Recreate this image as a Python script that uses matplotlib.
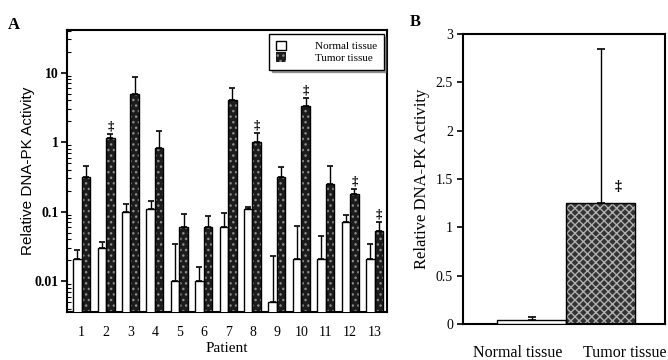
import matplotlib
matplotlib.use("Agg")
import matplotlib.pyplot as plt
import numpy as np
from matplotlib.ticker import FixedLocator, FixedFormatter, NullFormatter, LogLocator
from matplotlib.patches import Patch

# ---------------- data ----------------
patients = ["1", "2", "3", "4", "5", "6", "7", "8", "9", "10", "11", "12", "13"]
normal_vals = [0.021, 0.030, 0.10, 0.11, 0.010, 0.010, 0.061, 0.11, 0.005, 0.021, 0.021, 0.072, 0.021]
normal_err = [0.007, 0.007, 0.03, 0.03, 0.024, 0.006, 0.035, 0.005, 0.018, 0.042, 0.024, 0.018, 0.013]
tumor_vals = [0.31, 1.14, 5.0, 0.83, 0.060, 0.060, 4.1, 1.0, 0.32, 3.3, 0.25, 0.18, 0.053]
tumor_err = [0.14, 0.16, 3.6, 0.60, 0.034, 0.028, 1.9, 0.34, 0.12, 1.0, 0.20, 0.03, 0.017]
tumor_sig = [False, True, False, False, False, False, False, True, False, True, False, True, True]

b_labels = ["Normal tissue", "Tumor tissue"]
b_vals = [0.04, 1.25]
b_err = [0.03, 1.59]
b_sig = [False, True]

a_yticks = [0.01, 0.1, 1, 10]
a_yticklabels = ["0.01", "0.1", "1", "10"]
b_yticks = [0, 0.5, 1, 1.5, 2, 2.5, 3]
b_yticklabels = ["0", "0.5", "1", "1.5", "2", "2.5", "3"]

SERIF = "Liberation Serif"
SANS = "Liberation Sans"

fig = plt.figure(figsize=(6.68, 3.6), dpi=100)
fig.patch.set_facecolor("white")

DARK = "#1c1c1c"
SPECK = "#8c8c8c"


def hatched_bar(ax, x, h, w, face, speck, hatch):
    ax.bar(x, h, w, color=face, edgecolor=speck, hatch=hatch, linewidth=0, zorder=2)
    ax.bar(x, h, w, fill=False, edgecolor="black", linewidth=1.0, zorder=3)


# ---------------- Panel A ----------------
axA = fig.add_axes([0.1003, 0.1333, 0.4786, 0.7833])
x = np.arange(1, len(patients) + 1)
w = 0.35
xn = x - w / 2
xt = x + w / 2
axA.set_yscale("log")
axA.set_ylim(0.0036, 41)
axA.set_xlim(0.4, 13.5)

axA.bar(xn, normal_vals, w, color="white", edgecolor="black", linewidth=1.0, zorder=3)
hatched_bar(axA, xt, tumor_vals, w, DARK, SPECK, "...")
axA.errorbar(xn, normal_vals, yerr=[np.zeros(len(x)), normal_err], fmt="none",
             ecolor="black", elinewidth=1.0, capsize=2, capthick=1.2, zorder=4)
axA.errorbar(xt, tumor_vals, yerr=[np.zeros(len(x)), tumor_err], fmt="none",
             ecolor="black", elinewidth=1.0, capsize=2, capthick=1.2, zorder=4)
for xi, v, e, s in zip(xt, tumor_vals, tumor_err, tumor_sig):
    if s:
        axA.text(xi, (v + e) * 1.06, "‡", ha="center", va="bottom",
                 fontsize=9, family=SERIF, fontweight="bold")

axA.yaxis.set_major_locator(FixedLocator(a_yticks))
axA.yaxis.set_major_formatter(FixedFormatter(a_yticklabels))
axA.yaxis.set_minor_locator(LogLocator(base=10, subs=np.arange(2, 10)))
axA.yaxis.set_minor_formatter(NullFormatter())
axA.tick_params(axis="y", which="major", direction="out", length=4, width=1.2,
                labelsize=10, pad=2)
axA.tick_params(axis="y", which="minor", direction="in", length=3, width=0.8)
for lab in axA.get_yticklabels():
    lab.set_family(SERIF)
    lab.set_fontweight("bold")
axA.set_xticks(x)
axA.set_xticklabels(patients, family=SERIF, fontsize=10)
axA.tick_params(axis="x", length=0, pad=10)
for sp in axA.spines.values():
    sp.set_linewidth(1.5)
axA.set_xlabel("Patient", family=SERIF, fontsize=11, labelpad=2)
axA.set_ylabel("Relative DNA-PK Activity", family=SANS, fontsize=11, labelpad=0)

# legend
h1 = Patch(facecolor="white", edgecolor="black", linewidth=1.0)
h2 = Patch(facecolor=DARK, edgecolor=SPECK, hatch="...", linewidth=0)
leg = axA.legend([h1, h2], ["Normal tissue", "Tumor tissue"], loc="upper right",
                 bbox_to_anchor=(0.99, 0.985), frameon=True, fancybox=False,
                 shadow=True, prop={"family": SERIF, "size": 8},
                 handlelength=0.9, handleheight=0.9, handletextpad=2.6,
                 borderpad=0.6, borderaxespad=0.0, labelspacing=0.1)
leg.get_frame().set_edgecolor("black")
leg.get_frame().set_linewidth(1.0)

fig.text(0.012, 0.93, "A", family=SERIF, fontsize=12, fontweight="bold",
         ha="left", va="center")

# ---------------- Panel B ----------------
axB = fig.add_axes([0.6927, 0.1, 0.3021, 0.8056])
xb = np.arange(len(b_labels))
axB.set_xlim(-1.0, 1.92)
axB.set_ylim(0, 3)
axB.bar(xb[0], b_vals[0], 1.0, color="white", edgecolor="black", linewidth=1.0, zorder=3)
hatched_bar(axB, [xb[1]], [b_vals[1]], 1.0, "#333333", "#b0b0b0", "xxxx")
axB.errorbar(xb, b_vals, yerr=[np.zeros(2), b_err], fmt="none", ecolor="black",
             elinewidth=1.0, capsize=3, capthick=1.2, zorder=4)
for xi, v, s in zip(xb, b_vals, b_sig):
    if s:
        axB.text(xi + 0.25, v + 0.1, "‡", ha="center", va="bottom",
                 fontsize=10, family=SERIF, fontweight="bold")

axB.set_yticks(b_yticks)
axB.set_yticklabels(b_yticklabels, family=SERIF, fontsize=10)
axB.tick_params(axis="y", direction="out", length=4, width=1.2, pad=3)
axB.set_xticks(xb - np.array([0.2, -0.35]))
axB.set_xticklabels(b_labels, family=SERIF, fontsize=11.5)
axB.tick_params(axis="x", length=0, pad=15)
for sp in axB.spines.values():
    sp.set_linewidth(1.5)
axB.set_ylabel("Relative DNA-PK Activity", family=SERIF, fontsize=12, labelpad=4)

fig.text(0.613, 0.94, "B", family=SERIF, fontsize=12, fontweight="bold",
         ha="left", va="center")

fig.savefig("out.png", dpi=100, facecolor="white")
